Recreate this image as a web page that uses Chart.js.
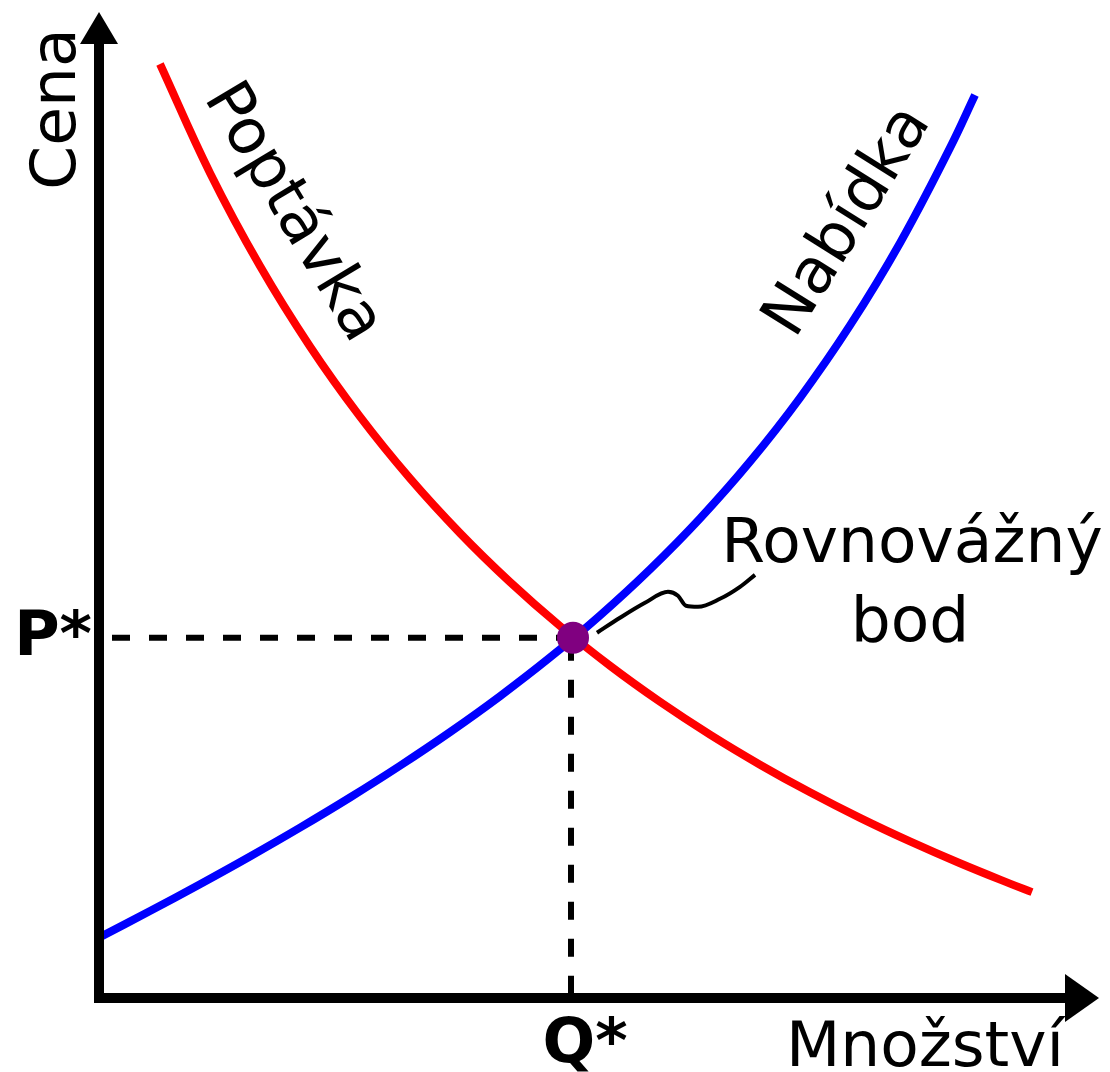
<!DOCTYPE html>
<html>
<head>
<meta charset="utf-8">
<script src="https://cdn.jsdelivr.net/npm/chart.js@4.4.1/dist/chart.umd.min.js"></script>
<style>
  html, body { margin: 0; padding: 0; background: #fff; }
  #wrap { width: 1110px; height: 1072px; }
</style>
</head>
<body>
<div id="wrap"><canvas id="chart" width="1110" height="1072"></canvas></div>
<script>
// Demand curve (Poptávka): quantity / price
const demandQ = [0.6, 1.1, 1.6, 2.1, 2.6, 3.1, 3.6, 4.1, 4.6, 5.1, 5.6, 6.1, 6.6, 7.1, 7.6, 8.1, 8.6, 9.1, 9.32];
const demandP = [9.359, 8.267, 7.334, 6.528, 5.825, 5.206, 4.658, 4.168, 3.727, 3.329, 2.968, 2.639, 2.338, 2.061, 1.805, 1.569, 1.350, 1.146, 1.061];

// Supply curve (Nabídka)
const supplyQ = [0, 0.5, 1.0, 1.5, 2.0, 2.5, 3.0, 3.5, 4.0, 4.5, 5.0, 5.5, 6.0, 6.5, 7.0, 7.5, 8.0, 8.5, 8.75];
const supplyP = [0.61, 0.871, 1.140, 1.418, 1.707, 2.009, 2.327, 2.664, 3.024, 3.412, 3.833, 4.295, 4.805, 5.374, 6.014, 6.739, 7.566, 8.518, 9.048];

// Equilibrium point
const eqQ = 4.73;
const eqP = 3.61;

// Leader line from the point to the "Rovnovážný bod" label
const leaderQ = [4.97, 5.2, 5.45, 5.68, 5.78, 5.86, 5.98, 6.2, 6.4, 6.55];
const leaderP = [3.66, 3.81, 3.96, 4.07, 4.03, 3.93, 3.92, 4.0, 4.12, 4.24];

const toPoints = (xs, ys) => xs.map((x, i) => ({ x: x, y: ys[i] }));

// axes with arrows and all the labels
const decorations = {
    id: "decorations",
    afterDatasetsDraw(chart) {
        const ctx = chart.ctx;
        const xs = chart.scales.x, ys = chart.scales.y;
        const x0 = xs.getPixelForValue(0) - 1;
        const y0 = ys.getPixelForValue(0);
        ctx.save();
        ctx.fillStyle = "#000";
        ctx.strokeStyle = "#000";
        ctx.lineWidth = 10;
        // y axis
        ctx.beginPath();
        ctx.moveTo(x0, y0 + 5);
        ctx.lineTo(x0, 40);
        ctx.stroke();
        ctx.beginPath();
        ctx.moveTo(x0, 12);
        ctx.lineTo(x0 - 19, 44);
        ctx.lineTo(x0 + 19, 44);
        ctx.closePath();
        ctx.fill();
        // x axis
        ctx.beginPath();
        ctx.moveTo(x0 - 5, y0);
        ctx.lineTo(1068, y0);
        ctx.stroke();
        ctx.beginPath();
        ctx.moveTo(1099, y0);
        ctx.lineTo(1065, y0 - 24);
        ctx.lineTo(1065, y0 + 24);
        ctx.closePath();
        ctx.fill();

        ctx.font = "63px 'DejaVu Sans'";
        ctx.textAlign = "center";
        ctx.textBaseline = "alphabetic";
        ctx.fillText("Rovnovážný", 912, 562);
        ctx.fillText("bod", 910, 641);
        ctx.fillText("Množství", 925, 1066);

        ctx.font = "bold 62px 'DejaVu Sans'";
        ctx.fillText("Q*", 585, 1062);
        ctx.textAlign = "right";
        ctx.fillText("P*", 92, 655);

        ctx.font = "63px 'DejaVu Sans'";
        ctx.textAlign = "center";
        // Cena, reading upward
        ctx.save();
        ctx.translate(75, 109);
        ctx.rotate(-Math.PI / 2);
        ctx.fillText("Cena", 0, 0);
        ctx.restore();
        // Poptávka along the demand curve
        ctx.save();
        ctx.textBaseline = "middle";
        ctx.translate(292, 213);
        ctx.rotate(59 * Math.PI / 180);
        ctx.fillText("Poptávka", 0, 0);
        ctx.restore();
        // Nabídka along the supply curve
        ctx.save();
        ctx.textBaseline = "middle";
        ctx.translate(849, 222);
        ctx.rotate(-58 * Math.PI / 180);
        ctx.fillText("Nabídka", 0, 0);
        ctx.restore();
        ctx.restore();
    }
};

new Chart(document.getElementById("chart"), {
    type: "scatter",
    data: {
        datasets: [
            {
                label: "Rovnovážný bod",
                data: [{ x: eqQ, y: eqP }],
                pointRadius: 16,
                pointBackgroundColor: "#800080",
                pointBorderWidth: 0,
                showLine: false
            },
            {
                label: "Nabídka",
                data: toPoints(supplyQ, supplyP),
                borderColor: "#0000ff",
                borderWidth: 8,
                pointRadius: 0,
                showLine: true,
                tension: 0.4
            },
            {
                label: "Poptávka",
                data: toPoints(demandQ, demandP),
                borderColor: "#ff0000",
                borderWidth: 8,
                pointRadius: 0,
                showLine: true,
                tension: 0.4
            },
            {
                label: "leader",
                data: toPoints(leaderQ, leaderP),
                borderColor: "#000",
                borderWidth: 4,
                pointRadius: 0,
                showLine: true,
                cubicInterpolationMode: "monotone"
            },
            {
                label: "P* guide",
                data: [{ x: 0.12, y: eqP }, { x: eqQ, y: eqP }],
                borderColor: "#000",
                borderWidth: 6,
                borderDash: [18, 19],
                pointRadius: 0,
                showLine: true
            },
            {
                label: "Q* guide",
                data: [{ x: eqQ - 0.02, y: eqP - 0.05 }, { x: eqQ - 0.02, y: 0 }],
                borderColor: "#000",
                borderWidth: 6,
                borderDash: [18, 19],
                pointRadius: 0,
                showLine: true
            }
        ]
    },
    options: {
        responsive: false,
        animation: false,
        layout: { autoPadding: false, padding: { left: 100, right: 10, top: 0, bottom: 74 } },
        scales: {
            x: { type: "linear", min: 0, max: 10, display: false },
            y: { type: "linear", min: 0, max: 10, display: false }
        },
        plugins: {
            legend: { display: false },
            tooltip: { enabled: false }
        },
        elements: { line: { borderCapStyle: "butt" } },
        clip: false
    },
    plugins: [decorations]
});
</script>
</body>
</html>
